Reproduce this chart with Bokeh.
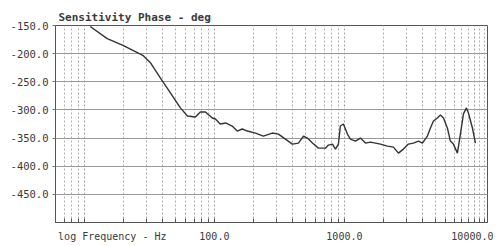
from bokeh.plotting import figure
from bokeh.models import FixedTicker, Range1d, NumeralTickFormatter
from bokeh.embed import file_html
from bokeh.resources import INLINE

freq_hz = [11.1, 15.0, 20.0, 28.4, 32.2, 38.4, 45.9, 54.8, 62.0, 71.4, 78.0, 85.3, 96.5,
           101.8, 111, 122, 137, 150, 164, 179, 207, 238, 279, 311, 352, 398, 443, 484,
           519, 568, 631, 714, 753, 809, 853, 899, 931, 982, 1018, 1055, 1112, 1216,
           1328, 1452, 1585, 1731, 1892, 2142, 2382, 2602, 2844, 3106, 3395, 3707, 3981,
           4348, 4588, 4839, 5188, 5473, 5777, 6194, 6532, 6889, 7396, 7800, 8230, 8680,
           8990, 9650, 10180]
phase_deg = [-151.8, -173.2, -185.7, -203.6, -216.1, -242.9, -269.6, -296.4, -310.7, -312.5,
             -303.6, -303.6, -314.3,
             -316.1, -325.0, -323.2, -328.6, -337.5, -333.9, -337.5, -341.1, -346.4, -341.1,
             -342.9, -351.8, -360.7, -358.9, -346.4, -350.0, -358.9, -367.9, -367.9, -362.5,
             -360.7, -369.6, -360.7, -328.6, -325.0, -333.9, -342.9, -351.8, -355.4, -350.0,
             -358.9, -357.1, -358.9, -360.7, -364.3, -366.1, -376.8, -369.6, -360.7, -358.9,
             -355.4, -358.9, -346.4, -332.1, -319.6, -314.3, -308.9, -314.3, -332.1, -355.4,
             -360.7, -376.8, -342.9, -307.1, -296.4, -305.4, -332.1, -358.9]

y_ticks = [-450, -400, -350, -300, -250, -200, -150]
x_major = [10, 100, 1000, 10000]
x_minor = [6, 7, 8, 9, 20, 30, 40, 50, 60, 70, 80, 90, 200, 300, 400, 500, 600, 700, 800, 900,
           2000, 3000, 4000, 5000, 6000, 7000, 8000, 9000, 11000, 12000]

title_text = "Sensitivity Phase - deg"
xlabel_text = "log Frequency - Hz"
xlabel_pos = 16.4          # frequency under the centre of the axis caption
x_labels = {xlabel_pos: xlabel_text, 100: "100.0", 1000: "1000.0", 10000: "10000.0"}

MONO = "DejaVu Sans Mono"
TXT = "#3a3a3a"

p = figure(width=493, height=244, x_axis_type="log", output_backend="svg",
           toolbar_location=None, x_range=Range1d(6.0, 12600), y_range=Range1d(-500, -150),
           min_border_left=55, min_border_right=6, min_border_top=25, min_border_bottom=22)

p.title.text = title_text
p.title.text_font = MONO
p.title.text_font_size = "11px"
p.title.text_font_style = "bold"
p.title.text_color = TXT
p.title.standoff = 3
p.title.offset = 3

p.outline_line_color = "#555555"
p.outline_line_width = 1

# axis: labels at the decades plus the caption; short inward ticks on every line
p.xaxis.ticker = FixedTicker(ticks=[xlabel_pos] + x_major[1:],
                             minor_ticks=sorted(x_minor + x_major))
p.xaxis.major_label_overrides = x_labels
p.xaxis.major_label_text_font = MONO
p.xaxis.major_label_text_font_size = "10px"
p.xaxis.major_label_text_color = TXT
p.xaxis.major_tick_line_color = None
p.xaxis.major_tick_in = 0
p.xaxis.major_tick_out = 0
p.xaxis.minor_tick_in = 4
p.xaxis.minor_tick_out = 0
p.xaxis.minor_tick_line_color = "#555555"
p.xaxis.major_label_standoff = 8
p.xaxis.axis_line_color = "#555555"

p.yaxis.ticker = FixedTicker(ticks=y_ticks)
p.yaxis.formatter = NumeralTickFormatter(format="0.0")
p.yaxis.major_label_text_font = MONO
p.yaxis.major_label_text_font_size = "10.5px"
p.yaxis.major_label_text_color = TXT
p.yaxis.major_tick_in = 0
p.yaxis.major_tick_out = 3
p.yaxis.minor_tick_line_color = None
p.yaxis.major_label_standoff = 4
p.yaxis.axis_line_color = "#555555"
p.yaxis.major_tick_line_color = "#777777"

p.ygrid.grid_line_color = "#9a9a9a"
p.ygrid.grid_line_width = 1
p.xgrid.ticker = FixedTicker(ticks=x_major, minor_ticks=x_minor)
p.xgrid.grid_line_color = "#a0a0a0"
p.xgrid.grid_line_dash = "2 2"
p.xgrid.minor_grid_line_color = "#b0b0b0"
p.xgrid.minor_grid_line_dash = "2 2"

p.line(freq_hz, phase_deg, line_color="#333333", line_width=1.4)

open("out.html", "w").write(file_html(p, INLINE))
